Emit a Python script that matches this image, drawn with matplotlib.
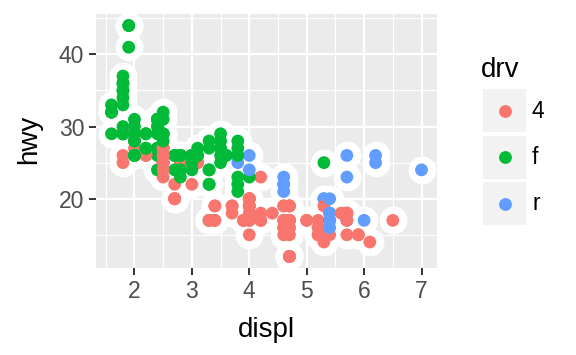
import matplotlib
matplotlib.use('Agg')
import matplotlib.pyplot as plt
import matplotlib.patches as mpatches

# mpg data: engine displacement, highway mpg, drive train (one line per model)
displ = [
    1.8, 1.8, 2.0, 2.0, 2.8, 2.8, 3.1,                  # audi a4
    1.8, 1.8, 2.0, 2.0, 2.8, 2.8, 3.1, 3.1,             # a4 quattro
    2.8, 3.1, 4.2,                                      # a6 quattro
    5.3, 5.3, 5.3, 5.7, 6.0,                            # c1500 suburban
    5.7, 5.7, 6.2, 6.2, 7.0,                            # corvette
    5.3, 5.3, 5.7, 6.5,                                 # k1500 tahoe
    2.4, 2.4, 3.1, 3.5, 3.6,                            # malibu
    2.4, 3.0, 3.3, 3.3, 3.3, 3.3, 3.3, 3.8, 3.8, 3.8, 4.0,  # caravan
    3.7, 3.7, 3.9, 3.9, 4.7, 4.7, 4.7, 5.2, 5.2,        # dakota
    3.9, 4.7, 4.7, 4.7, 5.2, 5.7, 5.9,                  # durango
    4.7, 4.7, 4.7, 4.7, 4.7, 4.7, 5.2, 5.2, 5.7, 5.9,   # ram 1500
    4.6, 5.4, 5.4,                                      # expedition
    4.0, 4.0, 4.0, 4.0, 4.6, 5.0,                       # explorer
    4.2, 4.2, 4.6, 4.6, 4.6, 5.4, 5.4,                  # f150
    3.8, 3.8, 4.0, 4.0, 4.6, 4.6, 4.6, 4.6, 5.4,        # mustang
    1.6, 1.6, 1.6, 1.6, 1.6, 1.8, 1.8, 1.8, 2.0,        # civic
    2.4, 2.4, 2.4, 2.4, 2.5, 2.5, 3.3,                  # sonata
    2.0, 2.0, 2.0, 2.0, 2.7, 2.7, 2.7,                  # tiburon
    3.0, 3.7, 4.0, 4.7, 4.7, 4.7, 5.7, 6.1,             # grand cherokee
    4.0, 4.2, 4.4, 4.6,                                 # range rover
    5.4, 5.4, 5.4,                                      # navigator
    4.0, 4.0, 4.6, 5.0,                                 # mountaineer
    2.4, 2.4, 2.5, 2.5, 3.5, 3.5,                       # altima
    3.0, 3.0, 3.5,                                      # maxima
    3.3, 3.3, 4.0, 5.6,                                 # pathfinder
    3.1, 3.8, 3.8, 3.8, 5.3,                            # grand prix
    2.5, 2.5, 2.5, 2.5, 2.5, 2.5,                       # forester
    2.2, 2.2, 2.5, 2.5, 2.5, 2.5, 2.5, 2.5,             # impreza
    2.7, 2.7, 3.4, 3.4, 4.0, 4.7,                       # 4runner
    2.2, 2.2, 2.4, 2.4, 3.0, 3.0, 3.5,                  # camry
    2.2, 2.2, 2.4, 2.4, 3.0, 3.0, 3.3,                  # camry solara
    1.8, 1.8, 1.8, 1.8, 1.8,                            # corolla
    4.7, 5.7,                                           # land cruiser
    2.7, 2.7, 2.7, 3.4, 3.4, 4.0, 4.0,                  # tacoma
    2.0, 2.0, 2.0, 2.0, 2.8,                            # gti
    1.9, 2.0, 2.0, 2.0, 2.0, 2.5, 2.5, 2.8, 2.8,        # jetta
    1.9, 1.9, 2.0, 2.0, 2.5, 2.5,                       # new beetle
    1.8, 1.8, 2.0, 2.0, 2.8, 2.8, 3.6,                  # passat
]
hwy = [
    29, 29, 31, 30, 26, 26, 27,
    26, 25, 28, 27, 25, 25, 25, 25,
    24, 25, 23,
    20, 15, 20, 17, 17,
    26, 23, 26, 25, 24,
    19, 14, 15, 17,
    27, 30, 26, 29, 26,
    24, 24, 22, 22, 24, 24, 17, 22, 21, 23, 23,
    19, 18, 17, 17, 19, 19, 12, 17, 15,
    17, 17, 12, 17, 16, 18, 15,
    16, 12, 17, 17, 16, 12, 15, 16, 17, 15,
    17, 17, 18,
    17, 19, 17, 19, 19, 17,
    17, 17, 16, 16, 17, 15, 17,
    26, 25, 26, 24, 21, 22, 23, 22, 20,
    33, 32, 32, 29, 32, 34, 36, 36, 29,
    26, 27, 30, 31, 26, 26, 28,
    26, 29, 28, 29, 26, 26, 24,
    22, 19, 20, 17, 12, 19, 18, 14,
    15, 18, 18, 15,
    17, 16, 18,
    19, 19, 19, 17,
    29, 27, 31, 32, 27, 26,
    26, 25, 25,
    17, 17, 20, 18,
    26, 26, 27, 28, 25,
    25, 24, 27, 25, 26, 23,
    26, 26, 26, 26, 25, 27, 25, 27,
    20, 20, 19, 17, 20, 17,
    29, 27, 31, 31, 26, 26, 28,
    27, 29, 31, 31, 26, 26, 27,
    30, 33, 35, 37, 35,
    15, 18,
    20, 20, 22, 17, 19, 18, 20,
    29, 26, 29, 29, 24,
    44, 29, 26, 29, 29, 29, 29, 23, 24,
    44, 41, 29, 26, 28, 29,
    29, 29, 28, 29, 26, 26, 26,
]
drv = list(
    "fffffff" "44444444" "444" "rrrrr" "rrrrr" "4444" "fffff"
    "fffffffffff" "444444444" "4444444" "4444444444"
    "rrr" "444444" "4444444" "rrrrrrrrr"
    "fffffffff" "fffffff" "fffffff" "44444444" "4444" "rrr" "4444"
    "ffffff" "fff" "4444" "fffff" "444444" "44444444"
    "444444" "fffffff" "fffffff" "fffff" "44" "4444444"
    "fffff" "fffffffff" "ffffff" "fffffff"
)
levels = ['4', 'f', 'r']
palette = {'4': '#F8766D', 'f': '#00BA38', 'r': '#619CFF'}

W, H = 576, 355
plt.rcParams['font.family'] = ['Liberation Sans', 'DejaVu Sans']

fig = plt.figure(figsize=(W / 100, H / 100), dpi=100)
ax = fig.add_axes([96 / W, 1 - 268 / H, (437 - 96) / W, (268 - 14) / H])
ax.set_facecolor('#EBEBEB')
for s in ax.spines.values():
    s.set_visible(False)

# white halo layer first, then coloured points
ax.scatter(displ, hwy, s=400, color='white', linewidths=0, zorder=3)
ax.scatter(displ, hwy, s=85, c=[palette[d] for d in drv], linewidths=0, zorder=4)

ax.set_xlim(1.33, 7.27)
ax.set_ylim(10.4, 45.6)
ax.set_xticks([2, 3, 4, 5, 6, 7])
ax.set_yticks([20, 30, 40])
ax.set_xticks([1.5, 2.5, 3.5, 4.5, 5.5, 6.5], minor=True)
ax.set_yticks([15, 25, 35, 45], minor=True)
ax.grid(which='major', color='white', linewidth=1.6)
ax.grid(which='minor', color='white', linewidth=0.8)
ax.set_axisbelow(True)
ax.tick_params(which='major', length=5, width=1.4, color='#333333',
               labelcolor='#4D4D4D', labelsize=16.5, pad=3.5)
ax.tick_params(which='minor', length=0)

fig.text(36 / W, 1 - 139 / H, 'hwy', rotation=90, rotation_mode='anchor',
         ha='center', va='baseline', fontsize=20, color='black')
fig.text(266.5 / W, 1 - 337 / H, 'displ', ha='center', va='baseline',
         fontsize=20, color='black')

# legend drawn in pixel coordinates
lax = fig.add_axes([0, 0, 1, 1])
lax.set_xlim(0, W)
lax.set_ylim(H, 0)
lax.axis('off')
lax.patch.set_visible(False)
lax.text(481, 77, 'drv', ha='left', va='baseline', fontsize=20, color='black')
for i, lev in enumerate(levels):
    top = 89 + i * 46.5
    lax.add_patch(mpatches.Rectangle((483, top), 43, 43, facecolor='#F2F2F2',
                                     edgecolor='none'))
    lax.scatter([504.5], [top + 21.5], s=85, color=palette[lev], linewidths=0)
    lax.text(532, top + 22, lev, ha='left', va='center', fontsize=16.5,
             color='black')

fig.savefig('out.png', dpi=100)
